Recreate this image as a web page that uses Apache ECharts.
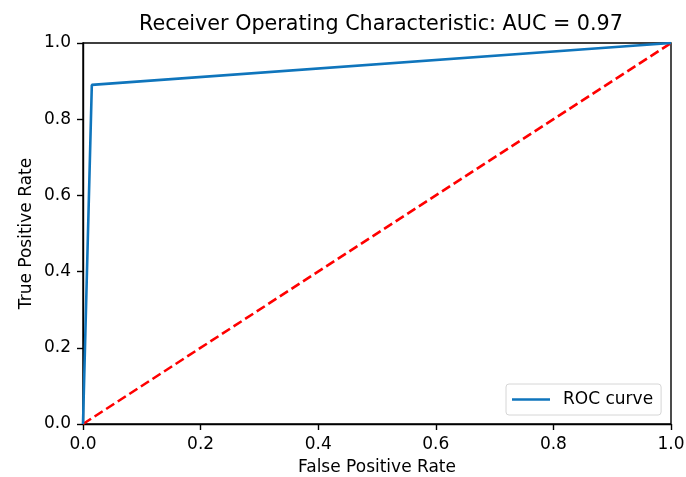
<!DOCTYPE html>
<html>
<head>
<meta charset="utf-8">
<script src="https://cdn.jsdelivr.net/npm/echarts@6/dist/echarts.min.js"></script>
<style>
  html, body { margin: 0; padding: 0; background: #fff; }
  #chart { width: 686px; height: 477px; }
</style>
</head>
<body>
<div id="chart"></div>
<script>
// ROC 曲线:蓝色实线 + 红色虚线对角参考线
const fpr = [0.0, 0.015, 1.0];
const tpr = [0.0, 0.89, 1.0];
const chanceX = [0, 1];
const chanceY = [0, 1];
const auc = 0.97;

const rocData = fpr.map((x, i) => [x, tpr[i]]);
const chanceData = chanceX.map((x, i) => [x, chanceY[i]]);

const font = 'DejaVu Sans';
const blue = '#0f75bc';
const chart = echarts.init(document.getElementById('chart'), null, { renderer: 'canvas' });

const axisCommon = {
  type: 'value', min: 0, max: 1, interval: 0.2,
  nameLocation: 'middle', nameMoveOverlap: false,
  nameTextStyle: { fontFamily: font, fontSize: 17, color: '#000' },
  axisLine: { show: true, lineStyle: { color: '#000', width: 1.4 } },
  axisTick: { show: true, length: 6, inside: false, lineStyle: { color: '#000', width: 1.4 } },
  axisLabel: { fontFamily: font, fontSize: 17, color: '#000', margin: 12,
    formatter: (v) => v.toFixed(1) },
  splitLine: { show: false },
};

chart.setOption({
  animation: false,
  backgroundColor: '#fff',
  title: {
    text: 'Receiver Operating Characteristic: AUC = ' + auc.toFixed(2),
    left: 376, top: 9, textAlign: 'center',
    textStyle: { fontFamily: font, fontSize: 20.7, fontWeight: 'normal', color: '#000' },
  },
  grid: { left: 83, right: 15, top: 43, bottom: 53, show: true,
    outerBoundsMode: 'none', containLabel: false,
    borderColor: '#000', borderWidth: 1.4, backgroundColor: 'transparent' },
  legend: {
    left: 506, top: 384, orient: 'vertical',
    padding: [7, 8, 7, 6], itemGap: 0, itemWidth: 38, itemHeight: 17,
    borderColor: '#d6d6d6', borderWidth: 1, borderRadius: 3, backgroundColor: '#fff',
    textStyle: { fontFamily: font, fontSize: 17, color: '#000', padding: [0, 0, 0, 8] },
    data: [{ name: 'ROC curve', icon: 'path://M0,0H1V0.072H0Z' }],
  },
  xAxis: Object.assign({}, axisCommon, { name: 'False Positive Rate', nameGap: 35 }),
  yAxis: Object.assign({}, axisCommon, { name: 'True Positive Rate', nameGap: 48 }),
  series: [
    {
      name: 'ROC curve', type: 'line', data: rocData, showSymbol: false,
      lineStyle: { color: blue, width: 2.6 }, itemStyle: { color: blue },
      z: 3,
    },
    {
      name: 'chance', type: 'line', data: chanceData, showSymbol: false,
      lineStyle: { color: '#ff0000', width: 2.6, type: [9.6, 4.2] }, itemStyle: { color: '#ff0000' },
      z: 2,
    },
  ],
});
</script>
</body>
</html>
